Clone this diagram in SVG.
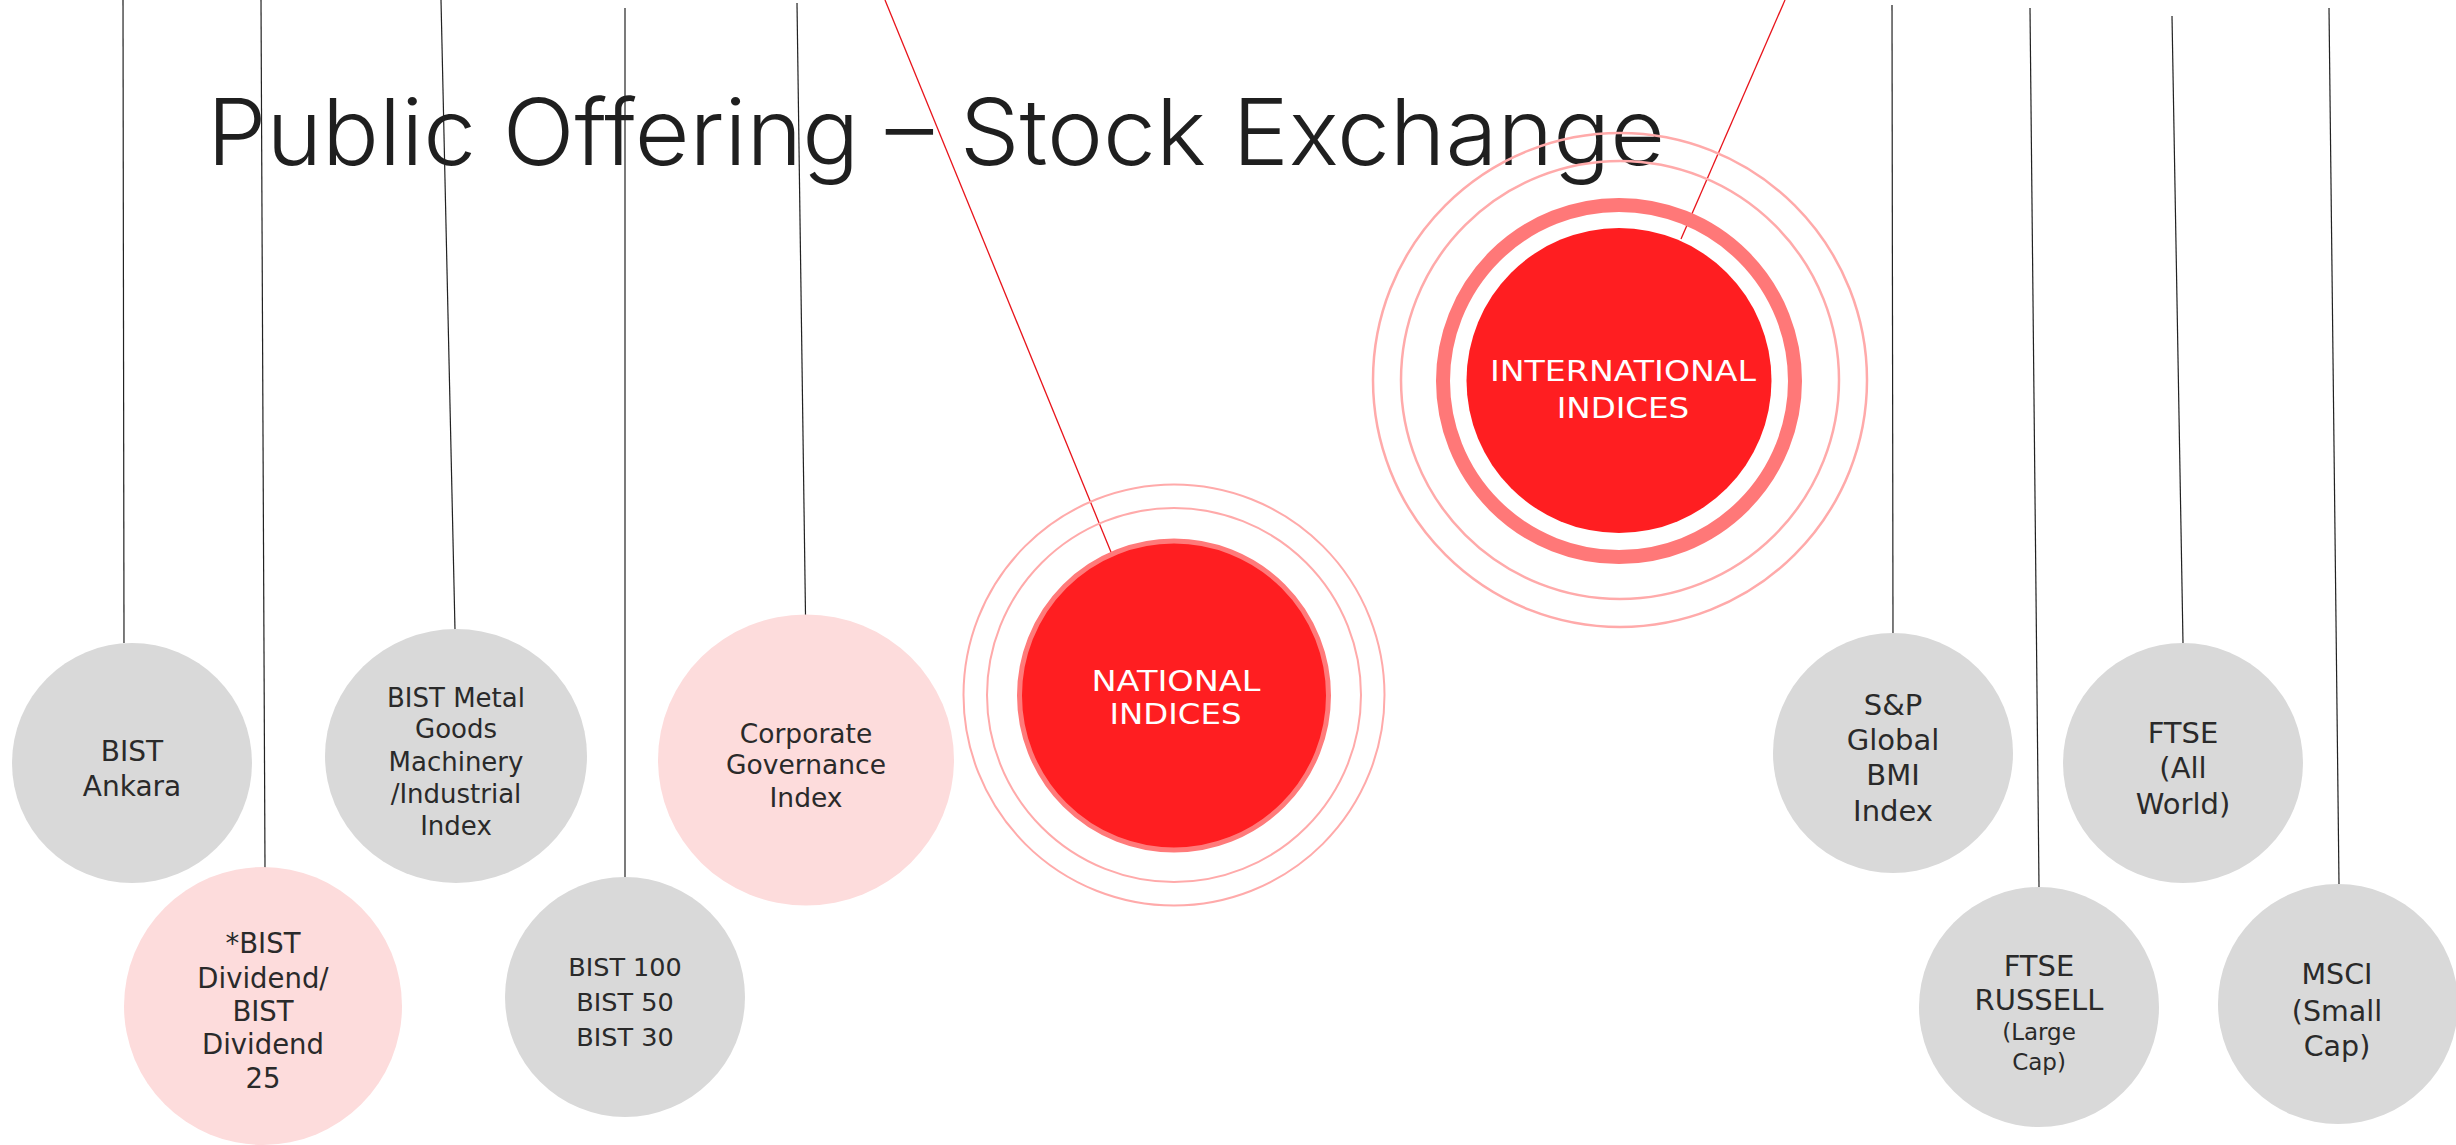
<svg xmlns="http://www.w3.org/2000/svg" width="2456" height="1145" viewBox="0 0 2456 1145">
  <style>
    .title { font-family: Inter, "Open Sans", "DejaVu Sans", sans-serif; font-weight: 300; font-size: 92px; fill: #1f1f1f; }
    .lbl { font-family: "DejaVu Sans", "Liberation Sans", sans-serif; fill: #2a2a2a; text-anchor: middle; }
    .hub { font-family: "DejaVu Sans", "Liberation Sans", sans-serif; fill: #ffffff; text-anchor: middle; font-size: 28px; }
    .grey { fill: #d9d9d9; }
    .pink { fill: #fddcdc; }
    .wire { stroke: #222222; stroke-width: 1.2; fill: none; }
    .redwire { stroke: #e8141b; stroke-width: 1.3; fill: none; }
    .ring { fill: none; stroke: #ffaaaa; }
    .core { fill: #ff1e21; }
  </style>
  <rect width="2456" height="1145" fill="#ffffff"/>

  <text id="title" class="title" x="207" y="165" textLength="1458" lengthAdjust="spacingAndGlyphs">Public Offering – Stock Exchange</text>

  <g id="connectors">
    <line class="wire" x1="123" y1="0" x2="124" y2="643"/>
    <line class="wire" x1="261" y1="0" x2="265" y2="868"/>
    <line class="wire" x1="441" y1="0" x2="455" y2="630"/>
    <line class="wire" x1="625" y1="8" x2="625" y2="877"/>
    <line class="wire" x1="797" y1="3" x2="805.5" y2="615"/>
    <line class="redwire" x1="885" y1="0" x2="1113" y2="557"/>
    <line class="redwire" x1="1785" y1="0" x2="1681" y2="239"/>
    <line class="wire" x1="1892" y1="5" x2="1893" y2="633"/>
    <line class="wire" x1="2030" y1="8" x2="2039" y2="887"/>
    <line class="wire" x1="2172" y1="16" x2="2183" y2="643"/>
    <line class="wire" x1="2329" y1="8" x2="2339" y2="884"/>
  </g>

  <g id="national-indices">
    <circle class="ring" cx="1174" cy="695" r="210.5" stroke-width="2"/>
    <circle class="ring" cx="1174" cy="695" r="187" stroke-width="2"/>
    <circle class="core" cx="1174" cy="695.5" r="154.5" stroke="#ff7a7a" stroke-width="5"/>
    <text class="hub" x="1176" y="691" textLength="169" lengthAdjust="spacingAndGlyphs">NATIONAL</text>
    <text class="hub" x="1175.5" y="724" textLength="132" lengthAdjust="spacingAndGlyphs">INDICES</text>
  </g>

  <g id="international-indices">
    <circle class="ring" cx="1620" cy="380" r="247" stroke-width="2.5"/>
    <circle class="ring" cx="1620" cy="380" r="219" stroke-width="2.5"/>
    <circle cx="1619" cy="381" r="176" fill="none" stroke="#ff7878" stroke-width="14"/>
    <circle class="core" cx="1619" cy="380.5" r="152.5"/>
    <text class="hub" x="1623" y="381" font-size="30" textLength="266" lengthAdjust="spacingAndGlyphs">INTERNATIONAL</text>
    <text class="hub" x="1623" y="418" font-size="30" textLength="132.6" lengthAdjust="spacingAndGlyphs">INDICES</text>
  </g>

  <g id="bist-ankara">
    <circle class="grey" cx="132" cy="763" r="120"/>
    <text class="lbl" font-size="28"><tspan x="132" y="760.6">BIST</tspan><tspan x="132" y="796.4">Ankara</tspan></text>
  </g>

  <g id="bist-dividend">
    <circle class="pink" cx="263" cy="1006" r="139"/>
    <text class="lbl" font-size="27.5"><tspan x="263" y="953">*BIST</tspan><tspan x="263" y="988">Dividend/</tspan><tspan x="263" y="1021">BIST</tspan><tspan x="263" y="1054">Dividend</tspan><tspan x="263" y="1088">25</tspan></text>
  </g>

  <g id="bist-metal">
    <ellipse class="grey" cx="456" cy="756" rx="131" ry="127"/>
    <text class="lbl" font-size="26"><tspan x="456" y="707">BIST Metal</tspan><tspan x="456" y="738">Goods</tspan><tspan x="456" y="771">Machinery</tspan><tspan x="456" y="803">/Industrial</tspan><tspan x="456" y="835">Index</tspan></text>
  </g>

  <g id="bist-100">
    <circle class="grey" cx="625" cy="997" r="120"/>
    <text class="lbl" font-size="25.5"><tspan x="625" y="976">BIST 100</tspan><tspan x="625" y="1011">BIST 50</tspan><tspan x="625" y="1046">BIST 30</tspan></text>
  </g>

  <g id="corporate-governance">
    <ellipse class="pink" cx="806" cy="760" rx="148" ry="145.5"/>
    <text class="lbl" font-size="26.5"><tspan x="806" y="742.5">Corporate</tspan><tspan x="806" y="774">Governance</tspan><tspan x="806" y="807">Index</tspan></text>
  </g>

  <g id="sp-global-bmi">
    <circle class="grey" cx="1893" cy="753" r="120"/>
    <text class="lbl" font-size="29"><tspan x="1893" y="715">S&amp;P</tspan><tspan x="1893" y="750">Global</tspan><tspan x="1893" y="785">BMI</tspan><tspan x="1893" y="821">Index</tspan></text>
  </g>

  <g id="ftse-russell">
    <circle class="grey" cx="2039" cy="1007" r="120"/>
    <text class="lbl" font-size="29"><tspan x="2039" y="975.5">FTSE</tspan><tspan x="2039" y="1010">RUSSELL</tspan><tspan x="2039" y="1040" font-size="23">(Large</tspan><tspan x="2039" y="1070" font-size="23">Cap)</tspan></text>
  </g>

  <g id="ftse-all-world">
    <circle class="grey" cx="2183" cy="763" r="120"/>
    <text class="lbl" font-size="29"><tspan x="2183" y="742.5">FTSE</tspan><tspan x="2183" y="778">(All</tspan><tspan x="2183" y="813.5">World)</tspan></text>
  </g>

  <g id="msci-small-cap">
    <circle class="grey" cx="2338" cy="1004" r="120"/>
    <text class="lbl" font-size="28.5"><tspan x="2337" y="984">MSCI</tspan><tspan x="2337" y="1020.5">(Small</tspan><tspan x="2337" y="1055.5">Cap)</tspan></text>
  </g>
</svg>
